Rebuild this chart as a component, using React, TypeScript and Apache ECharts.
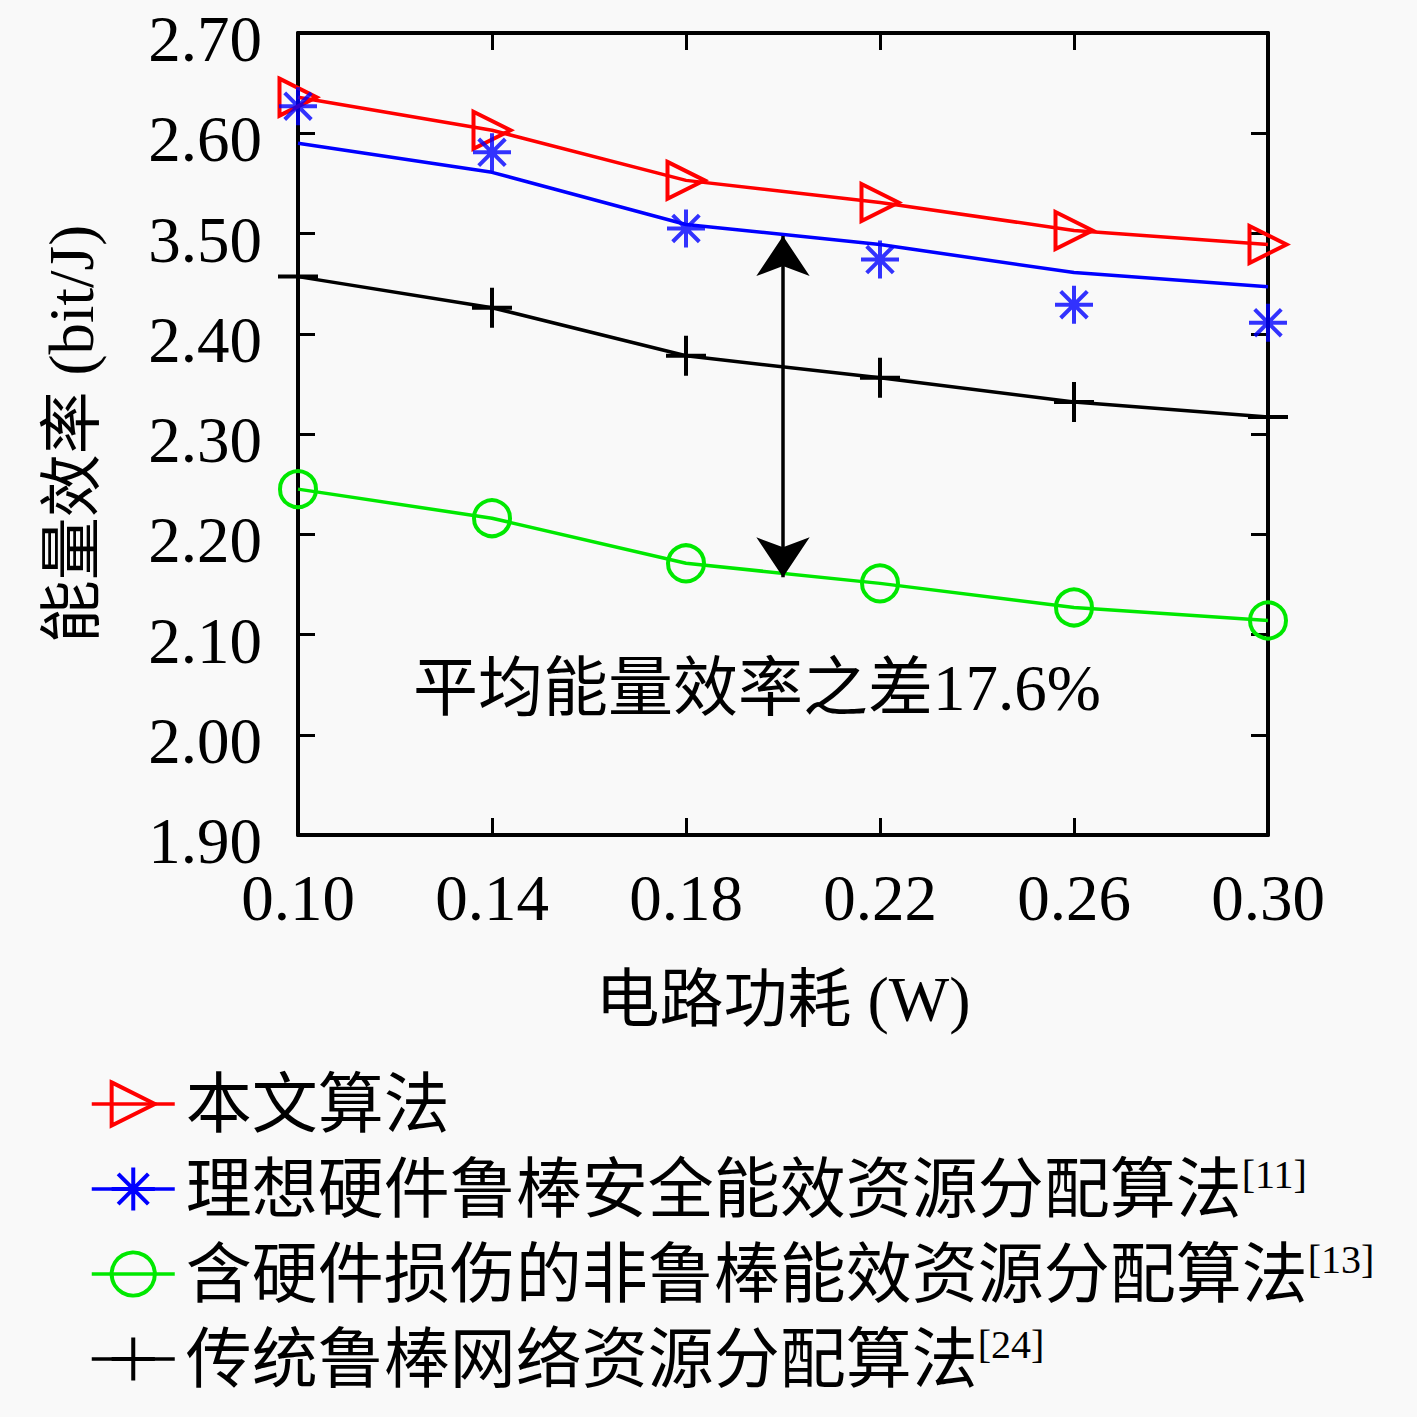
import { useEffect, useRef } from 'react';
import * as echarts from 'echarts';

// circuit power (W)
const xValues = [0.1, 0.14, 0.18, 0.22, 0.26, 0.3];
const yTickLabels = ['1.90', '2.00', '2.10', '2.20', '2.30', '2.40', '3.50', '2.60', '2.70'];

// energy efficiency (bit/J)
const proposed = [2.636, 2.603, 2.553, 2.531, 2.503, 2.489];
const idealLine = [2.59, 2.561, 2.509, 2.489, 2.461, 2.447];
const idealPoints = [2.627, 2.581, 2.505, 2.474, 2.429, 2.411];
const impaired = [2.245, 2.216, 2.171, 2.151, 2.127, 2.114];
const traditional = [2.457, 2.426, 2.378, 2.356, 2.332, 2.317];

const seriesNames = [
  '本文算法',
  '理想硬件鲁棒安全能效资源分配算法',
  '含硬件损伤的非鲁棒能效资源分配算法',
  '传统鲁棒网络资源分配算法',
];
const seriesRefs = ['', '[11]', '[13]', '[24]'];

// arrow between the curves, at 0.20 W
const gapArrowX = 0.2;
const gapArrowTop = 2.4975;
const gapArrowBottom = 2.157;
const gapText = '平均能量效率之差17.6%';

const SERIF = "'Liberation Serif', 'Noto Sans CJK SC', serif";
const TRI = 'path://M0,0L20,10L0,20Z';
const STAR = 'path://M10,0L10,20M0,10L20,10M3,3L17,17M3,17L17,3';
const PLUS = 'path://M10,0L10,20M0,10L20,10';

const pairs = (ys: number[]) => xValues.map((x, i) => [x, ys[i]]);

export default function App() {
  const chartRef = useRef<HTMLDivElement>(null);

  useEffect(() => {
    if (!chartRef.current) return;
    const chart = echarts.init(chartRef.current, null, { renderer: 'svg' });

    const axisFont = { fontFamily: SERIF, fontSize: 65, color: '#000' };
    const lineSeries = (name: string, color: string, symbol: string, size: number, ys: number[], showSymbol = true) => ({
      name,
      type: 'line',
      data: pairs(ys),
      symbol,
      symbolSize: size,
      showSymbol,
      lineStyle: { color, width: 3.5 },
      itemStyle: { color: 'rgba(0,0,0,0)', borderColor: color, borderWidth: 4 },
      emphasis: { disabled: true },
      z: 2,
    });

    const black = {
      ...lineSeries(seriesNames[3], '#000', PLUS, 40, traditional),
      markLine: {
        silent: true,
        symbol: ['arrow', 'arrow'],
        symbolSize: 40,
        label: { show: false },
        lineStyle: { color: '#000', width: 3.5, type: 'solid' },
        data: [[{ coord: [gapArrowX, gapArrowTop] }, { coord: [gapArrowX, gapArrowBottom] }]],
      },
    };

    chart.setOption({
      animation: false,
      backgroundColor: '#f9f9f9',
      grid: { left: 298, right: 149, top: 33, bottom: 582, outerBoundsMode: 'none' },
      xAxis: [
        {
          type: 'value',
          min: 0.1,
          max: 0.3,
          name: '电路功耗 (W)',
          nameLocation: 'middle',
          nameGap: 132,
          nameTextStyle: { fontFamily: SERIF, fontSize: 64, color: '#000' },
          axisLine: { lineStyle: { color: '#000', width: 4 } },
          axisTick: { inside: true, length: 17, lineStyle: { width: 3, color: '#000' }, customValues: xValues },
          axisLabel: { ...axisFont, margin: 30, customValues: xValues, formatter: (v: number) => v.toFixed(2) },
          splitLine: { show: false },
        },
        {
          type: 'value',
          position: 'top',
          min: 0.1,
          max: 0.3,
          axisLine: { onZero: false, lineStyle: { color: '#000', width: 4 } },
          axisTick: { inside: true, length: 17, lineStyle: { width: 3, color: '#000' }, customValues: xValues },
          axisLabel: { show: false },
          splitLine: { show: false },
        },
      ],
      yAxis: [
        {
          type: 'value',
          min: 1.9,
          max: 2.7,
          interval: 0.1,
          name: '能量效率 (bit/J)',
          nameLocation: 'middle',
          nameGap: 195,
          nameTextStyle: { fontFamily: SERIF, fontSize: 63, color: '#000' },
          axisLine: { show: true, lineStyle: { color: '#000', width: 4 } },
          axisTick: { show: true, inside: true, length: 17, lineStyle: { width: 3, color: '#000' } },
          axisLabel: {
            color: '#000',
            margin: 36,
            formatter: (v: number) => `{v|${yTickLabels[Math.round(v * 10) - 19] ?? ''}}`,
            rich: {
              v: { fontFamily: SERIF, fontSize: 65, lineHeight: 50, padding: [12, 0, 0, 0], color: '#000' },
            },
          },
          splitLine: { show: false },
        },
        {
          type: 'value',
          position: 'right',
          min: 1.9,
          max: 2.7,
          interval: 0.1,
          axisLine: { show: true, onZero: false, lineStyle: { color: '#000', width: 4 } },
          axisTick: { show: true, inside: true, length: 17, lineStyle: { width: 3, color: '#000' } },
          axisLabel: { show: false },
          splitLine: { show: false },
        },
      ],
      legend: {
        data: seriesNames,
        orient: 'vertical',
        left: 85,
        top: 1066,
        itemWidth: 83,
        itemHeight: 54,
        itemGap: 17,
        selectedMode: false,
        itemStyle: { borderWidth: 4 },
        lineStyle: { width: 3.5 },
        textStyle: {
          color: '#000',
          padding: [0, 0, 0, 6],
          rich: {
            t: { fontFamily: SERIF, fontSize: 66, lineHeight: 70, color: '#000' },
            s: { fontFamily: SERIF, fontSize: 40, lineHeight: 40, verticalAlign: 'top', color: '#000' },
          },
        },
        formatter: (name: string) => {
          const ref = seriesRefs[seriesNames.indexOf(name)];
          return `{t|${name}}` + (ref ? `{s|${ref}}` : '');
        },
      },
      graphic: [
        {
          type: 'text',
          left: 413,
          top: 655,
          style: { text: gapText, font: `65px ${SERIF}`, fill: '#000' },
        },
      ],
      series: [
        lineSeries(seriesNames[0], '#ff0000', TRI, 37, proposed),
        lineSeries(seriesNames[1], '#0000ff', STAR, 38, idealLine, false),
        {
          name: 'ideal-points',
          type: 'scatter',
          data: pairs(idealPoints),
          symbol: STAR,
          symbolSize: 38,
          itemStyle: { color: 'rgba(0,0,0,0)', borderColor: '#0000ff', borderWidth: 4 },
          emphasis: { disabled: true },
          z: 3,
        },
        lineSeries(seriesNames[2], '#00e800', 'circle', 36, impaired),
        black,
      ],
    });

    return () => {
      chart.dispose();
    };
  }, []);

  return (
    <div
      ref={chartRef}
      style={{ position: 'absolute', left: 0, top: 0, width: '1417px', height: '1417px' }}
    ></div>
  );
}
